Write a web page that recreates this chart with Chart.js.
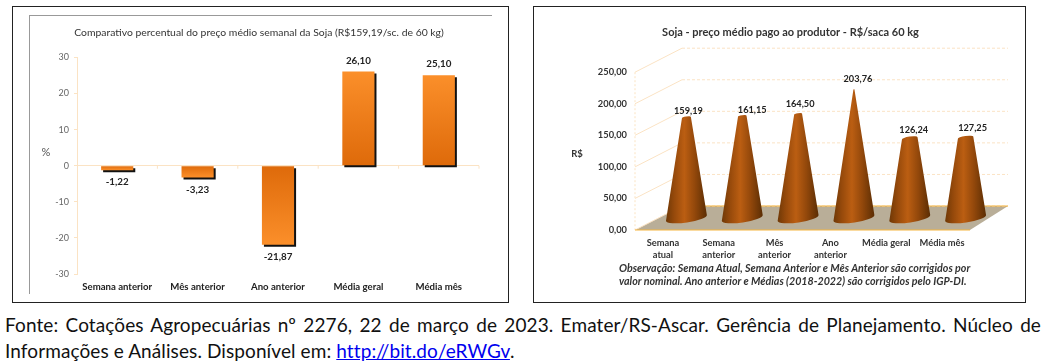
<!DOCTYPE html>
<html>
<head>
<meta charset="utf-8">
<title>Soja</title>
<script src="https://cdn.jsdelivr.net/npm/chart.js@4"></script>
<style>
  html, body { margin: 0; padding: 0; background: #fff; }
  body { width: 1041px; height: 361px; position: relative; overflow: hidden; font-family: Lato, sans-serif; }
  .frame { position: absolute; top: 6px; height: 295px; border: 1.5px solid #222; box-sizing: content-box; }
  #frameA { left: 12px; width: 495px; }
  #frameB { left: 533px; width: 491px; }
  #inner { position: absolute; left: 29px; top: 15px; width: 462px; height: 278px; border-top: 1px solid #999; border-left: 1px solid #999; }
  canvas { position: absolute; top: 7px; filter: blur(0.4px); }
  #chartA { left: 13px; }
  #chartB { left: 535px; }
  #nota { position: absolute; left: 619px; top: 261px; font: italic bold 10.7px/13px Lato, sans-serif; color: #333; white-space: nowrap; filter: blur(0.3px); }
  .fonte { position: absolute; left: 5px; font-size: 19px; letter-spacing: 0.1px; line-height: 20px; color: #111; white-space: nowrap; }
  #linha1 { top: 315px; width: 1036px; text-align: justify; text-align-last: justify; white-space: normal; }
  #linha2 { top: 341px; }
  a { color: #0000ee; }
</style>
</head>
<body>
<div class="frame" id="frameA"></div>
<div class="frame" id="frameB"></div>
<div id="inner"></div>
<canvas id="chartA" width="492" height="295"></canvas>
<canvas id="chartB" width="511" height="295"></canvas>
<div id="nota">Observação: Semana Atual, Semana Anterior e Mês Anterior são corrigidos por<br>valor nominal. Ano anterior e Médias (2018-2022) são corrigidos pelo IGP-DI.</div>
<div class="fonte" id="linha1">Fonte: Cotações Agropecuárias nº 2276, 22 de março de 2023. Emater/RS-Ascar. Gerência de Planejamento. Núcleo de</div>
<div class="fonte" id="linha2">Informações e Análises. Disponível em: <a href="http://bit.do/eRWGv">http://bit.do/eRWGv</a>.</div>
<script>
// Datos de las dos graficas
const percentCategories = ['Semana anterior', 'Mês anterior', 'Ano anterior', 'Média geral', 'Média mês'];
const percentValues = [-1.22, -3.23, -21.87, 26.10, 25.10];
const priceCategories = [['Semana', 'atual'], ['Semana', 'anterior'], ['Mês', 'anterior'], ['Ano', 'anterior'], 'Média geral', 'Média mês'];
const priceValues = [159.19, 161.15, 164.50, 203.76, 126.24, 127.25];

// Desplazamiento de las etiquetas de los conos [x, y]
const priceLabelShift = [[2, -6], [10, -6], [2, -10], [4, -10], [4, -8], [7, -10]];
// Profundidad de la caja 3D en pixeles
const depthX = 47;
const depthY = 24;

const comma = (v, d) => v.toFixed(d).replace('.', ',');
const peach = '#fbe3c4';

// Eje vacio a la derecha: reduce el area del grafico pero no la del titulo
const spacerAxis = (w) => ({
  position: 'right',
  afterFit(s) { s.width = w; },
  grid: { display: false, drawTicks: false },
  border: { display: false },
  ticks: { display: false }
});

// ------------------------ GRAFICA DE BARRAS ------------------------
const barExtras = {
  id: 'barExtras',
  // el degradado necesita la escala ya calculada
  beforeDatasetsUpdate(chart) {
    const y = chart.scales.y;
    chart.data.datasets[0].backgroundColor = percentValues.map((v) => {
      const g = chart.ctx.createLinearGradient(0, y.getPixelForValue(v), 0, y.getPixelForValue(0));
      g.addColorStop(0, '#fb8f2a');
      g.addColorStop(1, '#de6a0a');
      return g;
    });
  },
  beforeDatasetDraw(chart) {
    const c = chart.ctx;
    c.save();
    c.shadowColor = '#111';
    c.shadowOffsetX = 2;
    c.shadowOffsetY = 2;
    c.shadowBlur = 0;
  },
  afterDatasetDraw(chart) {
    chart.ctx.restore();
  },
  afterDraw(chart) {
    const c = chart.ctx;
    const x = chart.scales.x;
    const y = chart.scales.y;
    const zero = y.getPixelForValue(0);
    c.save();
    // marcas entre categorias sobre la linea de cero
    c.strokeStyle = peach;
    c.lineWidth = 1;
    const step = x.getPixelForTick(1) - x.getPixelForTick(0);
    percentCategories.forEach((_, i) => {
      const px = x.getPixelForTick(i) + step / 2;
      c.beginPath();
      c.moveTo(px, zero);
      c.lineTo(px, zero + 3);
      c.stroke();
    });
    // etiquetas de valor
    c.fillStyle = '#222';
    c.font = 'bold 9.8px Lato, sans-serif';
    c.textAlign = 'center';
    c.textBaseline = 'middle';
    chart.getDatasetMeta(0).data.forEach((bar, i) => {
      const v = percentValues[i];
      c.fillText(comma(v, 2), bar.x, v < 0 ? bar.y + 12 : bar.y - 11);
    });
    c.fillStyle = '#555';
    c.font = '11px Lato, sans-serif';
    c.fillText('%', 33, y.getPixelForValue(4) + 1);
    c.restore();
  }
};

new Chart(document.getElementById('chartA'), {
  type: 'bar',
  data: {
    labels: percentCategories,
    datasets: [{
      data: percentValues,
      barPercentage: 0.4,
      categoryPercentage: 1
    }]
  },
  options: {
    responsive: false,
    animation: false,
    events: [],
    plugins: {
      legend: { display: false },
      tooltip: { enabled: false },
      title: {
        display: true,
        text: 'Comparativo percentual do preço médio semanal da Soja (R$159,19/sc. de 60 kg)',
        color: '#333',
        font: { family: 'Lato, sans-serif', size: 10.4, weight: 'normal' },
        padding: { top: 19, bottom: 19 }
      }
    },
    scales: {
      x: {
        afterFit(s) { s.height = 28; },
        grid: { display: false, drawTicks: false },
        border: { display: false },
        ticks: { color: '#222', padding: 7, maxRotation: 0, autoSkip: false, font: { family: 'Lato, sans-serif', size: 9.6, weight: 'bold' } }
      },
      y: {
        min: -30,
        max: 30,
        afterFit(s) { s.width = 64; },
        border: { color: peach },
        grid: {
          color: (ctx) => ctx.tick.value === 0 ? peach : 'transparent',
          tickColor: peach,
          tickLength: 3
        },
        ticks: { stepSize: 10, color: '#666', padding: 5, font: { family: 'Lato, sans-serif', size: 9 } }
      },
      y1: spacerAxis(26)
    }
  },
  plugins: [barExtras]
});

// ------------------------ GRAFICA DE CONOS ------------------------
function drawBox(chart) {
  const c = chart.ctx;
  const a = chart.chartArea;
  const y = chart.scales.y;
  c.save();
  // piso
  c.fillStyle = '#b9ae98';
  c.beginPath();
  c.moveTo(a.left, a.bottom);
  c.lineTo(a.right, a.bottom);
  c.lineTo(a.right + depthX - 9, a.bottom - depthY);
  c.lineTo(a.left + depthX, a.bottom - depthY);
  c.closePath();
  c.fill();
  // lineas de la pared del fondo y del lateral
  y.ticks.forEach((t) => {
    const py = y.getPixelForValue(t.value);
    c.strokeStyle = peach;
    c.lineWidth = 1;
    c.setLineDash([]);
    c.beginPath();
    c.moveTo(a.left, py);
    c.lineTo(a.left + depthX, py - depthY);
    c.stroke();
    c.setLineDash([3, 2]);
    c.beginPath();
    c.moveTo(a.left + depthX, py - depthY);
    c.lineTo(a.right + depthX - 9, py - depthY);
    c.stroke();
  });
  c.setLineDash([2, 2]);
  c.beginPath();
  c.moveTo(a.left, a.top);
  c.lineTo(a.left, a.bottom);
  c.stroke();
  // bordes del piso
  c.setLineDash([]);
  c.strokeStyle = '#f5b540';
  c.lineWidth = 1.2;
  c.beginPath();
  c.moveTo(a.left, a.bottom);
  c.lineTo(a.right, a.bottom);
  c.moveTo(a.left + depthX, a.bottom - depthY);
  c.lineTo(a.right + depthX - 9, a.bottom - depthY);
  c.stroke();
  c.restore();
}

function drawCone(c, cx, baseY, topY, R, r) {
  const tilt = -0.14;
  const g = c.createLinearGradient(cx - R, 0, cx + R, 0);
  g.addColorStop(0, '#6e3806');
  g.addColorStop(0.2, '#95490b');
  g.addColorStop(0.45, '#bb5e12');
  g.addColorStop(0.7, '#93480b');
  g.addColorStop(1, '#5a2d04');
  c.fillStyle = g;
  c.beginPath();
  c.ellipse(cx, baseY, R, 4.5, tilt, 0, Math.PI);
  c.ellipse(cx, topY, r, r * 0.22, tilt, Math.PI, 2 * Math.PI);
  c.closePath();
  c.fill();
}

const coneExtras = {
  id: 'coneExtras',
  beforeDatasetsDraw: drawBox,
  afterDatasetsDraw(chart) {
    const c = chart.ctx;
    const top = Math.max(...priceValues);
    c.save();
    chart.getDatasetMeta(0).data.forEach((bar, i) => {
      const v = priceValues[i];
      const cx = bar.x + depthX / 2;
      const baseY = bar.base - depthY / 2;
      const topY = bar.y - depthY / 2;
      const R = bar.width / 2;
      drawCone(c, cx, baseY, topY, R, Math.max(R * (1 - v / top), 0.5));
      c.fillStyle = '#222';
      c.font = 'bold 9.2px Lato, sans-serif';
      c.textAlign = 'center';
      c.textBaseline = 'middle';
      c.fillText(comma(v, 2), cx + priceLabelShift[i][0], topY + priceLabelShift[i][1]);
    });
    c.fillStyle = '#333';
    c.font = 'bold 9.5px Lato, sans-serif';
    c.textAlign = 'center';
    c.textBaseline = 'middle';
    c.fillText('R$', 42, 147);
    c.restore();
  }
};

new Chart(document.getElementById('chartB'), {
  type: 'bar',
  data: {
    labels: priceCategories,
    datasets: [{
      data: priceValues,
      backgroundColor: 'transparent',
      barPercentage: 0.74,
      categoryPercentage: 1
    }]
  },
  options: {
    responsive: false,
    animation: false,
    events: [],
    plugins: {
      legend: { display: false },
      tooltip: { enabled: false },
      title: {
        display: true,
        text: 'Soja - preço médio pago ao produtor - R$/saca 60 kg',
        color: '#333',
        font: { family: 'Lato, sans-serif', size: 11, weight: 'bold' },
        padding: { top: 19, bottom: 33 }
      }
    },
    scales: {
      x: {
        afterFit(s) { s.height = 72; },
        grid: { display: false, drawTicks: false },
        border: { display: false },
        ticks: { color: '#333', padding: 7, maxRotation: 0, autoSkip: false, font: { family: 'Lato, sans-serif', size: 9.3, weight: 'bold', lineHeight: 1.28 } }
      },
      y: {
        min: 0,
        max: 250,
        afterFit(s) { s.width = 100; },
        border: { display: false },
        grid: { display: false, drawTicks: false },
        ticks: { stepSize: 50, color: '#333', padding: 8, callback: (v) => comma(v, 2), font: { family: 'Lato, sans-serif', size: 9.3, weight: 'bold' } }
      },
      y1: spacerAxis(76)
    }
  },
  plugins: [coneExtras]
});
</script>
</body>
</html>
